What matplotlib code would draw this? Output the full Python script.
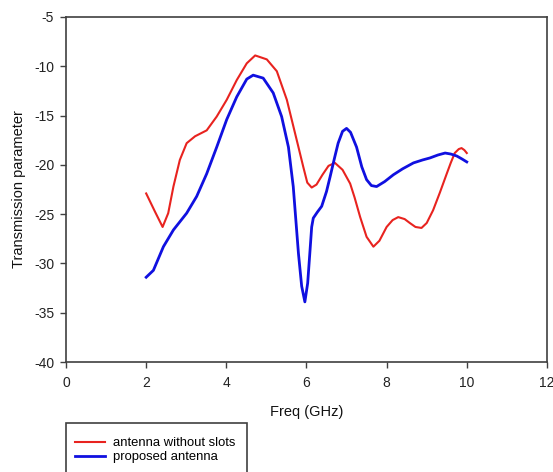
import matplotlib.pyplot as plt
from matplotlib.patches import Rectangle

plt.rcParams['font.family'] = ['Liberation Sans', 'DejaVu Sans']
plt.rcParams['axes.unicode_minus'] = False

# antenna without slots
freq_a = [2.0, 2.22, 2.41, 2.55, 2.68, 2.84, 3.01, 3.22, 3.51, 3.76, 4.01, 4.26,
          4.51, 4.72, 5.01, 5.26, 5.51, 5.8, 5.92, 6.02, 6.13, 6.25, 6.4, 6.55,
          6.71, 6.9, 7.09, 7.2, 7.34, 7.5, 7.67, 7.82, 8.0, 8.15, 8.29, 8.45,
          8.58, 8.72, 8.87, 9.0, 9.16, 9.33, 9.5, 9.6, 9.7, 9.8, 9.87, 9.94, 10.0]
s21_a = [-22.9, -24.75, -26.3, -24.9, -22.2, -19.5, -17.8, -17.1, -16.5, -15.1, -13.4, -11.4,
         -9.7, -8.9, -9.3, -10.5, -13.4, -18.2, -20.2, -21.8, -22.3, -22.0, -21.0, -20.1,
         -19.8, -20.5, -21.9, -23.3, -25.3, -27.3, -28.3, -27.7, -26.3, -25.6, -25.3, -25.5,
         -25.9, -26.3, -26.4, -25.9, -24.6, -22.8, -20.9, -19.8, -18.8, -18.4, -18.3, -18.5, -18.8]

# proposed antenna
freq_b = [2.0, 2.18, 2.43, 2.68, 3.01, 3.26, 3.51, 3.76, 4.01, 4.26, 4.51, 4.67,
          4.92, 5.17, 5.38, 5.55, 5.67, 5.8, 5.88, 5.96, 6.03, 6.09, 6.13, 6.17,
          6.27, 6.38, 6.5, 6.59, 6.7, 6.79, 6.9, 7.0, 7.1, 7.25, 7.38, 7.5,
          7.62, 7.75, 7.95, 8.17, 8.4, 8.67, 8.9, 9.08, 9.28, 9.46, 9.6, 9.75, 9.88, 10.0]
s21_b = [-31.4, -30.7, -28.3, -26.6, -24.9, -23.2, -20.9, -18.2, -15.4, -13.1, -11.3, -10.9,
         -11.2, -12.7, -15.1, -18.2, -22.2, -29.0, -32.3, -33.9, -32.0, -28.6, -26.3, -25.4,
         -24.8, -24.2, -22.7, -21.2, -19.3, -17.8, -16.6, -16.3, -16.7, -18.2, -20.2, -21.5,
         -22.1, -22.2, -21.7, -21.0, -20.4, -19.8, -19.5, -19.3, -19.0, -18.8, -18.9, -19.1, -19.4, -19.7]

fig = plt.figure(figsize=(5.53, 4.72), dpi=100)
ax = fig.add_axes([0.1194, 0.233, 0.8696, 0.731])

l1, = ax.plot(freq_a, s21_a, color='#e8231f', lw=1.5, label='antenna without slots')
l2, = ax.plot(freq_b, s21_b, color='#1010e0', lw=2.0, label='proposed antenna')

ax.set_xlim(0, 12)
ax.set_ylim(-40, -5)
ax.set_xticks([0, 2, 4, 6, 8, 10, 12])
ax.set_yticks([-40, -35, -30, -25, -20, -15, -10, -5])
ax.tick_params(direction='out', length=4, width=1, colors='#404040',
               labelcolor='#222222', labelsize=10)
ax.tick_params(axis='x', pad=6)
ax.tick_params(axis='y', pad=4.5)
for s in ax.spines.values():
    s.set_color('#404040')
    s.set_linewidth(1.2)

ax.set_xlabel('Freq (GHz)', fontsize=10.5, color='#111111', labelpad=11)
ax.set_ylabel('Transmission parameter', fontsize=10.5, color='#111111', labelpad=6)

# legend box that runs off the bottom of the figure
fig.patches.append(Rectangle((66 / 553, -0.05), 181 / 553, 0.05 + 49 / 472,
                             transform=fig.transFigure, fill=False,
                             edgecolor='#404040', lw=1.2))
fig.legend(handles=[l1, l2], loc='upper left', bbox_to_anchor=(75 / 553, 1 - 437 / 472),
           frameon=False, fontsize=9.4, handlelength=2.3, handletextpad=0.6,
           labelspacing=0.15, borderpad=0, borderaxespad=0)

fig.savefig('out.png', dpi=100)
